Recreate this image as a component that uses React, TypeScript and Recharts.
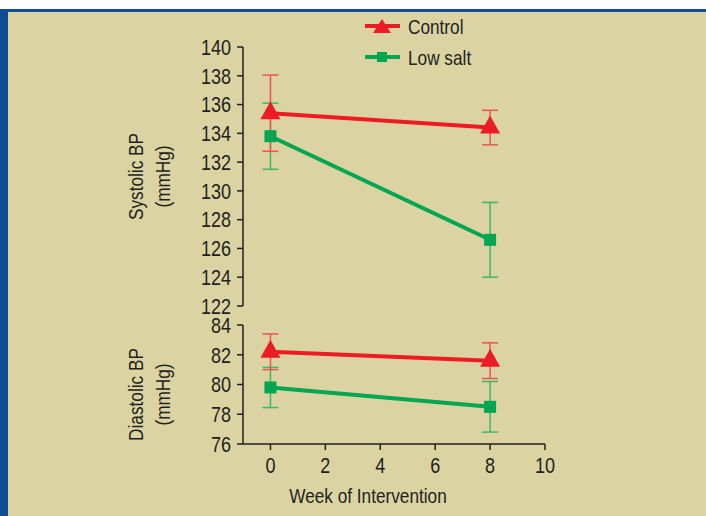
import { LineChart, Line, XAxis, YAxis, ErrorBar } from "recharts";

// weeks of intervention
const weeks = [0, 8];

// systolic BP (mmHg)
const controlSys = [135.4, 134.4];
const controlSysErr = [2.65, 1.2];
const lowSaltSys = [133.8, 126.6];
const lowSaltSysErr = [2.3, 2.6];

// diastolic BP (mmHg)
const controlDia = [82.2, 81.6];
const controlDiaErr = [1.2, 1.2];
const lowSaltDia = [79.8, 78.5];
const lowSaltDiaErr = [1.35, 1.7];

const xTicks = [0, 2, 4, 6, 8, 10];
const sysTicks = [122, 124, 126, 128, 130, 132, 134, 136, 138, 140];
const diaTicks = [76, 78, 80, 82, 84];

const seriesNames = ["Control", "Low salt"];

const RED = "#ed1c24";
const GREEN = "#00a651";
const INK = "#231f20";
const FONT = "'Liberation Sans', Arial, sans-serif";
const NARROW = 0.82; // squeeze Liberation Sans into a condensed look

const sysData = weeks.map((w, i) => ({
  week: w,
  control: controlSys[i],
  controlErr: controlSysErr[i],
  lowSalt: lowSaltSys[i],
  lowSaltErr: lowSaltSysErr[i],
}));

const diaData = weeks.map((w, i) => ({
  week: w,
  control: controlDia[i],
  controlErr: controlDiaErr[i],
  lowSalt: lowSaltDia[i],
  lowSaltErr: lowSaltDiaErr[i],
}));

const Triangle = (p: any) => {
  const { cx, cy, key } = p;
  if (cx == null || cy == null) return null;
  return (
    <polygon
      key={key}
      points={`${cx},${cy - 12} ${cx - 10},${cy + 6} ${cx + 10},${cy + 6}`}
      fill={RED}
    />
  );
};

const Square = (p: any) => {
  const { cx, cy, key } = p;
  if (cx == null || cy == null) return null;
  return <rect key={key} x={cx - 6} y={cy - 6} width={12} height={12} fill={GREEN} />;
};

const YTick = (p: any) => {
  const { x, y, payload } = p;
  return (
    <text
      transform={`translate(${x},${y}) scale(${NARROW},1)`}
      textAnchor="end"
      dy="0.355em"
      fill={INK}
      fontSize={22}
    >
      {payload.value}
    </text>
  );
};

const XTick = (p: any) => {
  const { x, y, payload } = p;
  return (
    <text
      transform={`translate(${x},${y}) scale(${NARROW},1)`}
      textAnchor="middle"
      dy="0.71em"
      fill={INK}
      fontSize={22}
    >
      {payload.value}
    </text>
  );
};

const yTitle = (lines: string[], shift: number) => (props: any) => {
  const { viewBox } = props;
  const cx = viewBox.x + 143;
  const cy = viewBox.y + viewBox.height / 2 + shift;
  return (
    <text
      transform={`translate(${cx},${cy}) rotate(-90) scale(${NARROW},1)`}
      textAnchor="middle"
      fill={INK}
      fontSize={21}
    >
      <tspan x={0} dy={0}>
        {lines[0]}
      </tspan>
      <tspan x={0} dy={27}>
        {lines[1]}
      </tspan>
    </text>
  );
};

const xTitle = (text: string) => (props: any) => {
  const { viewBox } = props;
  const cx = viewBox.x + viewBox.width / 2 - 26;
  const cy = viewBox.y + viewBox.height - 13;
  return (
    <text transform={`translate(${cx},${cy}) scale(${NARROW},1)`} textAnchor="middle" fill={INK} fontSize={21}>
      {text}
    </text>
  );
};

const LegendBox = () => (
  <div
    style={{
      position: "absolute",
      top: 11,
      left: 360,
      fontSize: 21,
      color: INK,
      lineHeight: "31px",
    }}
  >
    {seriesNames.map((name, i) => (
      <div key={name} style={{ display: "flex", alignItems: "center", height: 31 }}>
        <svg width={42} height={31}>
          <line x1={5} y1={15} x2={40} y2={15} stroke={i === 0 ? RED : GREEN} strokeWidth={4} />
          {i === 0 ? (
            <polygon points="22,8 13,22 31,22" fill={RED} />
          ) : (
            <rect x={17} y={10} width={10} height={10} fill={GREEN} />
          )}
        </svg>
        <span
          style={{
            marginLeft: 6,
            display: "inline-block",
            transform: `scaleX(${NARROW})`,
            transformOrigin: "left center",
            whiteSpace: "nowrap",
          }}
        >
          {name}
        </span>
      </div>
    ))}
  </div>
);

const axisProps = {
  stroke: INK,
  strokeWidth: 1.5,
  tickSize: 6,
  interval: 0 as const,
};

export default function App() {
  return (
    <div
      style={{
        position: "absolute",
        top: 0,
        left: 0,
        width: 706,
        height: 516,
        background: "#fff",
        fontFamily: FONT,
        overflow: "hidden",
      }}
    >
      <div
        style={{
          position: "absolute",
          top: 9,
          left: 0,
          right: 0,
          bottom: 0,
          background: "#dbd4a2",
          borderTop: "3px solid #104c92",
          borderLeft: "8px solid #104c92",
        }}
      />
      <div style={{ position: "absolute", top: 0, left: 0 }}>
        <LineChart width={706} height={516} data={sysData} margin={{ top: 47, right: 161, bottom: 210, left: 0 }}>
          <XAxis dataKey="week" type="number" domain={[-1, 10]} ticks={xTicks} hide />
          <YAxis
            type="number"
            domain={[122, 140]}
            ticks={sysTicks}
            width={243}
            tickMargin={6}
            tick={YTick}
            {...axisProps}
            label={{ content: yTitle(["Systolic BP", "(mmHg)"], 0) }}
          />
          <Line
            dataKey="lowSalt"
            stroke={GREEN}
            strokeWidth={4}
            dot={Square}
            activeDot={false}
            isAnimationActive={false}
          >
            <ErrorBar dataKey="lowSaltErr" direction="y" width={8} stroke="#3fb56e" strokeWidth={1.5} />
          </Line>
          <Line
            dataKey="control"
            stroke={RED}
            strokeWidth={4}
            dot={Triangle}
            activeDot={false}
            isAnimationActive={false}
          >
            <ErrorBar dataKey="controlErr" direction="y" width={8} stroke="#f05158" strokeWidth={1.5} />
          </Line>
        </LineChart>
      </div>
      <div style={{ position: "absolute", top: 0, left: 0 }}>
        <LineChart width={706} height={516} data={diaData} margin={{ top: 325, right: 161, bottom: 0, left: 0 }}>
          <XAxis
            dataKey="week"
            type="number"
            domain={[-1, 10]}
            ticks={xTicks}
            height={72}
            tickMargin={7}
            tick={XTick}
            {...axisProps}
            label={{ content: xTitle("Week of Intervention") }}
          />
          <YAxis
            type="number"
            domain={[76, 84]}
            ticks={diaTicks}
            width={243}
            tickMargin={6}
            tick={YTick}
            {...axisProps}
            label={{ content: yTitle(["Diastolic BP", "(mmHg)"], 10) }}
          />
          <Line
            dataKey="lowSalt"
            stroke={GREEN}
            strokeWidth={4}
            dot={Square}
            activeDot={false}
            isAnimationActive={false}
          >
            <ErrorBar dataKey="lowSaltErr" direction="y" width={8} stroke="#3fb56e" strokeWidth={1.5} />
          </Line>
          <Line
            dataKey="control"
            stroke={RED}
            strokeWidth={4}
            dot={Triangle}
            activeDot={false}
            isAnimationActive={false}
          >
            <ErrorBar dataKey="controlErr" direction="y" width={8} stroke="#f05158" strokeWidth={1.5} />
          </Line>
        </LineChart>
      </div>
      <LegendBox />
    </div>
  );
}
